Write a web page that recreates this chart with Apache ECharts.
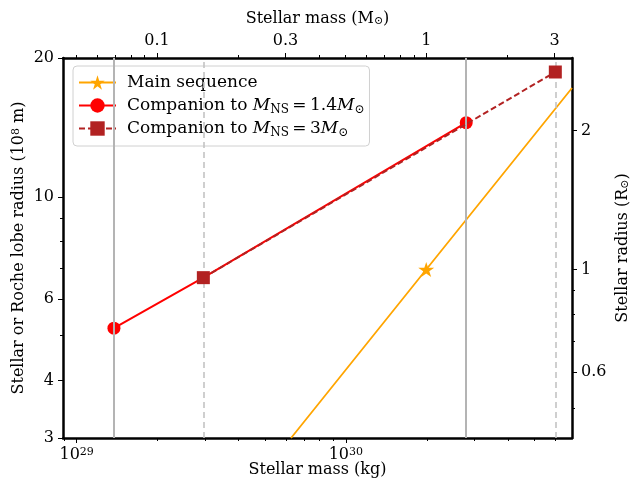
<!DOCTYPE html>
<html>
<head>
<meta charset="utf-8">
<script src="https://cdn.jsdelivr.net/npm/echarts@6/dist/echarts.min.js"></script>
<style>
  html, body { margin: 0; padding: 0; background: #fff; }
  #chart { width: 631px; height: 487px; }
</style>
</head>
<body>
<div id="chart"></div>
<script>
// units: mass in kg, radius in 1e8 m
var MSUN = 1.989e30;
var RSUN = 6.957;
var xMin = 8.9e28, xMax = 6.92e30;
var yMin = 3, yMax = 20;

// main sequence
var msMass = [6.26e29, 1.989e30, 6.92e30];
var msRadius = [3.0, 6.957, 17.22];
// companion, M_NS = 1.4 Msun
var ns14Mass = [1.376e29, 2.956e29, 2.80e30];
var ns14Radius = [5.19, 6.68, 14.48];
// companion, M_NS = 3 Msun
var ns3Mass = [2.956e29, 6.0e30];
var ns3Radius = [6.68, 18.65];

// vertical guide lines
var solidLines = [1.376e29, 2.80e30];
var dashedLines = [2.956e29, 6.0e30];

// tick values
var xMajor = [1e29, 1e30];
var xMinor = [9e28, 2e29, 3e29, 4e29, 5e29, 6e29, 7e29, 8e29, 9e29, 2e30, 3e30, 4e30, 5e30, 6e30];
var topMajor = [0.1, 0.3, 1, 3];
var topMinor = [0.05, 0.06, 0.07, 0.08, 0.09, 0.2, 0.4, 0.5, 0.6, 0.7, 0.8, 0.9, 2];
var yMajor = [3, 4, 6, 10, 20];
var yMinor = [5, 7, 8, 9];
var rightMajor = [0.6, 1, 2];
var rightMinor = [0.5, 0.7, 0.8, 0.9];

var FONT = 'DejaVu Serif';

function starPath() {
    var pts = [];
    for (var i = 0; i < 10; i++) {
        var r = i % 2 === 0 ? 1 : 0.382;
        var a = Math.PI / 2 + i * Math.PI / 5;
        pts.push((r * Math.cos(a)).toFixed(4) + ',' + (-r * Math.sin(a)).toFixed(4));
    }
    return 'path://M' + pts.join('L') + 'Z';
}
var STAR = starPath();

function pairs(xs, ys) {
    return xs.map(function (x, i) { return [x, ys[i]]; });
}

function fmtNum(v) {
    return String(Number(v.toPrecision(6)));
}

var rich = {
    sup: { fontSize: 11, lineHeight: 11, verticalAlign: 'top', fontFamily: FONT, color: '#000' },
    sub: { fontSize: 11, lineHeight: 11, verticalAlign: 'bottom', fontFamily: FONT, color: '#000' }
};
var legendRich = {
    sub: { fontSize: 12, lineHeight: 12, verticalAlign: 'bottom', fontFamily: FONT, color: '#000' },
    i: { fontStyle: 'italic', fontSize: 17, lineHeight: 21, fontFamily: FONT, color: '#000' },
    n: { fontSize: 17, lineHeight: 21, fontFamily: FONT, color: '#000' }
};

function majorAxis(extra) {
    var base = {
        type: 'log',
        splitLine: { show: false },
        axisLine: { show: true, lineStyle: { color: '#000', width: 2.5 } },
        axisTick: { show: true, length: 5, lineStyle: { color: '#000', width: 1 } },
        axisLabel: { fontSize: 16, fontFamily: FONT, color: '#000', rich: rich },
        nameLocation: 'middle',
        nameMoveOverlap: false,
        nameTextStyle: { fontSize: 16, fontFamily: FONT, color: '#000', rich: rich }
    };
    return Object.assign(base, extra);
}

function minorAxis(extra) {
    var base = {
        type: 'log',
        splitLine: { show: false },
        axisLine: { show: false },
        axisLabel: { show: false },
        axisTick: { show: true, length: 3, lineStyle: { color: '#000', width: 1 } }
    };
    return Object.assign(base, extra);
}

var chart = echarts.init(document.getElementById('chart'));

var legendNames = {
    'Main sequence': 'Main sequence',
    'ns14': 'Companion to {i|M}{sub|NS}{n|\u2009=\u20091.4}{i|M}{sub|⊙}',
    'ns3': 'Companion to {i|M}{sub|NS}{n|\u2009=\u20093}{i|M}{sub|⊙}'
};

chart.setOption({
    animation: false,
    grid: { left: 63, right: 59, top: 58, bottom: 49, outerBoundsMode: 'none', containLabel: false },
    legend: {
        data: ['Main sequence', 'ns14', 'ns3'],
        orient: 'vertical',
        left: 73,
        top: 66,
        padding: [6, 5, 7, 5],
        itemGap: 2,
        itemWidth: 37,
        itemHeight: 18,
        backgroundColor: 'rgba(255,255,255,0.8)',
        borderColor: '#d0d0d0',
        borderWidth: 1,
        borderRadius: 4,
        formatter: function (name) { return legendNames[name]; },
        textStyle: {
            fontSize: 17, fontFamily: FONT, color: '#000', lineHeight: 21,
            padding: [0, 0, 0, 6], rich: legendRich
        }
    },
    xAxis: [
        majorAxis({
            position: 'bottom', min: xMin, max: xMax,
            name: 'Stellar mass (kg)', nameGap: 24,
            axisTick: { show: true, length: 5, customValues: xMajor, lineStyle: { color: '#000', width: 1 } },
            axisLabel: {
                customValues: xMajor, margin: 9, fontSize: 16, fontFamily: FONT, color: '#000', rich: rich,
                formatter: function (v) { return '10{sup|' + Math.round(Math.log10(v)) + '}'; }
            }
        }),
        minorAxis({ position: 'bottom', min: xMin, max: xMax,
            axisTick: { show: true, length: 3, customValues: xMinor, lineStyle: { color: '#000', width: 1 } } }),
        majorAxis({
            position: 'top', min: xMin / MSUN, max: xMax / MSUN,
            name: 'Stellar mass (M{sub|⊙})', nameGap: 31,
            axisTick: { show: true, length: 5, customValues: topMajor, lineStyle: { color: '#000', width: 1 } },
            axisLabel: {
                customValues: topMajor, margin: 9, fontSize: 16, fontFamily: FONT, color: '#000',
                formatter: fmtNum
            }
        }),
        minorAxis({ position: 'top', min: xMin / MSUN, max: xMax / MSUN,
            axisTick: { show: true, length: 3, customValues: topMinor, lineStyle: { color: '#000', width: 1 } } })
    ],
    yAxis: [
        majorAxis({
            position: 'left', min: yMin, max: yMax,
            name: 'Stellar or Roche lobe radius (10{sup|8} m)', nameGap: 36, nameRotate: 90,
            axisTick: { show: true, length: 5, customValues: yMajor, lineStyle: { color: '#000', width: 1 } },
            axisLabel: {
                customValues: yMajor, margin: 9, fontSize: 16, fontFamily: FONT, color: '#000',
                formatter: fmtNum
            }
        }),
        minorAxis({ position: 'left', min: yMin, max: yMax,
            axisTick: { show: true, length: 3, customValues: yMinor, lineStyle: { color: '#000', width: 1 } } }),
        majorAxis({
            position: 'right', min: yMin / RSUN, max: yMax / RSUN,
            name: 'Stellar radius (R{sub|⊙})', nameGap: 43, nameRotate: 90,
            axisTick: { show: true, length: 5, customValues: rightMajor, lineStyle: { color: '#000', width: 1 } },
            axisLabel: {
                customValues: rightMajor, margin: 9, fontSize: 16, fontFamily: FONT, color: '#000',
                formatter: fmtNum
            }
        }),
        minorAxis({ position: 'right', min: yMin / RSUN, max: yMax / RSUN,
            axisTick: { show: true, length: 3, customValues: rightMinor, lineStyle: { color: '#000', width: 1 } } })
    ],
    series: [
        {
            type: 'line', name: 'solid guides', data: [], z: 1,
            markLine: {
                silent: true, symbol: ['none', 'none'], label: { show: false },
                lineStyle: { color: '#b4b4b4', width: 2, type: 'solid' },
                data: solidLines.map(function (v) { return { xAxis: v }; })
            }
        },
        {
            type: 'line', name: 'dashed guides', data: [], z: 1,
            markLine: {
                silent: true, symbol: ['none', 'none'], label: { show: false },
                lineStyle: { color: '#c4c4c4', width: 1.6, type: [6, 4] },
                data: dashedLines.map(function (v) { return { xAxis: v }; })
            }
        },
        {
            type: 'line', name: 'Main sequence', z: 3,
            symbol: STAR, symbolSize: [16, 15],
            itemStyle: { color: '#ffa500' },
            lineStyle: { color: '#ffa500', width: 1.8 },
            data: pairs(msMass, msRadius).map(function (p, i) {
                return i === 1 ? { value: p } : { value: p, symbol: 'none' };
            })
        },
        {
            type: 'line', name: 'ns14', z: 4,
            symbol: 'circle', symbolSize: 13,
            itemStyle: { color: '#ff0000' },
            lineStyle: { color: '#ff0000', width: 2 },
            data: pairs(ns14Mass, ns14Radius).map(function (p, i) {
                return i === 1 ? { value: p, symbol: 'none' } : { value: p };
            })
        },
        {
            type: 'line', name: 'ns3', z: 5,
            symbol: 'rect', symbolSize: 13,
            itemStyle: { color: '#b22222' },
            lineStyle: { color: '#b22222', width: 2, type: [6, 3] },
            data: pairs(ns3Mass, ns3Radius)
        }
    ]
});
</script>
</body>
</html>
